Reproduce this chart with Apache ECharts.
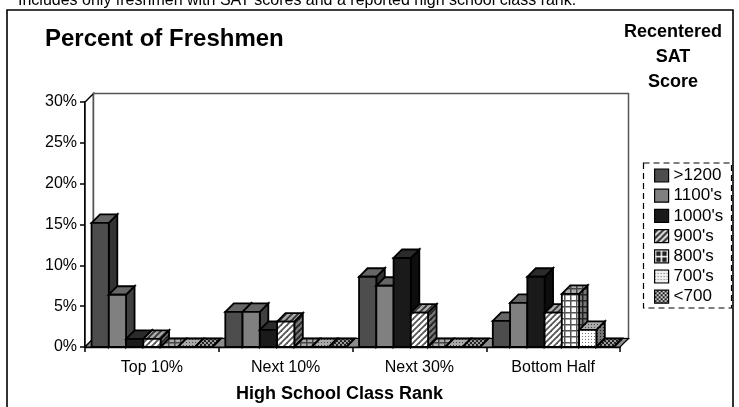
<!DOCTYPE html>
<html><head><meta charset="utf-8">
<style>html,body{margin:0;padding:0;background:#fff}#c{width:739px;height:407px}</style>
<script src="https://cdn.jsdelivr.net/npm/echarts@6/dist/echarts.min.js"></script>
</head><body><div id="c"></div>
<script>
const categories = ["Top 10%", "Next 10%", "Next 30%", "Bottom Half"];
const bands = [">1200", "1100's", "1000's", "900's", "800's", "700's", "<700"];
const over1200 = [15.2, 4.3, 8.6, 3.2];
const s1100 = [6.4, 4.3, 7.5, 5.4];
const s1000 = [1.0, 2.1, 10.9, 8.6];
const s900 = [1.0, 3.1, 4.2, 4.2];
const s800 = [0, 0, 0, 6.5];
const s700 = [0, 0, 0, 2.1];
const under700 = [0, 0, 0, 0];
const seriesValues = [over1200, s1100, s1000, s900, s800, s700, under700];
const yTicks = { min: 0, max: 30, interval: 5 };

function tile(size, draw) {
  const c = document.createElement('canvas');
  c.width = c.height = size;
  draw(c.getContext('2d'), size);
  return { image: c, repeat: 'repeat' };
}
function hatch(fg, bg) {
  return tile(6, (g, s) => {
    g.fillStyle = bg; g.fillRect(0, 0, s, s);
    g.strokeStyle = fg; g.lineWidth = 1.8;
    [[-s, s, s, -s], [0, s, s, 0], [0, 2 * s, 2 * s, 0]].forEach(l => {
      g.beginPath(); g.moveTo(l[0], l[1]); g.lineTo(l[2], l[3]); g.stroke();
    });
  });
}
function grid(fg, bg) {
  return tile(6, (g, s) => {
    g.fillStyle = bg; g.fillRect(0, 0, s, s);
    g.fillStyle = fg; g.fillRect(0, 0, s, 1.5); g.fillRect(0, 0, 1.5, s);
  });
}
function dots(fg, bg) {
  return tile(3, (g, s) => {
    g.fillStyle = bg; g.fillRect(0, 0, s, s);
    g.fillStyle = fg; g.fillRect(0, 0, 1, 1);
  });
}
function check(fg, bg) {
  return tile(4, (g, s) => {
    g.fillStyle = bg; g.fillRect(0, 0, s, s);
    g.fillStyle = fg; g.fillRect(0, 0, 2, 2); g.fillRect(2, 2, 2, 2);
  });
}
const fronts = ['#4d4d4d', '#808080', '#1a1a1a', hatch('#555', '#fff'), grid('#555', '#fff'), dots('#777', '#fff'), check('#333', '#ccc')];
const tops = ['#666666', '#666666', '#2b2b2b', hatch('#333', '#aaa'), grid('#444', '#aaa'), dots('#444', '#aaa'), check('#222', '#999')];
const sides = ['#333333', '#404040', '#0d0d0d', hatch('#222', '#777'), grid('#222', '#777'), dots('#222', '#777'), check('#111', '#666')];
const legendFronts = ['#4d4d4d', '#808080', '#1a1a1a', hatch('#fff', '#333'), grid('#fff', '#222'), dots('#777', '#eee'), check('#ccc', '#222')];
const depth = 8.5;

function poly(points, fill) {
  return { type: 'polygon', shape: { points }, style: { fill, stroke: '#000', lineWidth: 1.8 } };
}
function barItem(i) {
  return function (params, api) {
    const cat = api.value(0), val = api.value(1);
    const base = api.coord([cat, 0]), top = api.coord([cat, val]);
    const band = api.size([1, 0])[0];
    const w = band * 0.129;
    const x0 = base[0] - band / 2 + band * 0.049 + i * w, x1 = x0 + w;
    const yb = base[1], yt = top[1];
    return {
      type: 'group',
      children: [
        poly([[x1, yb], [x1 + depth, yb - depth], [x1 + depth, yt - depth], [x1, yt]], sides[i]),
        poly([[x0, yt], [x0 + depth, yt - depth], [x1 + depth, yt - depth], [x1, yt]], tops[i]),
        poly([[x0, yb], [x1, yb], [x1, yt], [x0, yt]], fronts[i])
      ]
    };
  };
}
const wallSeries = {
  type: 'custom', silent: true, clip: false, z: 1, data: [[0, 0]],
  encode: { x: 0, y: 1 },
  renderItem: function (params) {
    const r = params.coordSys, d = depth;
    const L = r.x, R = r.x + r.width, T = r.y, B = r.y + r.height;
    return {
      type: 'group',
      children: [
        { type: 'polygon', shape: { points: [[L, B], [L, T], [L + d, T - d], [L + d, B - d]] },
          style: { fill: '#fff', stroke: '#000', lineWidth: 1.5 } },
        { type: 'polygon', shape: { points: [[L + d, T - d], [R + d, T - d], [R + d, B - d], [L + d, B - d]] },
          style: { fill: '#fff', stroke: '#555', lineWidth: 1.5 } },
        { type: 'polygon', shape: { points: [[L, B], [L + d, B - d], [R + d, B - d], [R, B]] },
          style: { fill: '#8c8c8c', stroke: '#000', lineWidth: 1.2 } }
      ]
    };
  }
};
const barSeries = bands.map((name, i) => ({
  type: 'custom', name, clip: false, z: 2 + i,
  encode: { x: 0, y: 1 },
  itemStyle: { color: legendFronts[i] },
  renderItem: barItem(i),
  data: seriesValues[i].map((v, c) => [c, v])
}));
const font = '"Liberation Sans", Arial, sans-serif';
function label(text, x, y, size, weight, align) {
  return { type: 'text', x, y, style: { text, font: weight + ' ' + size + 'px ' + font, fill: '#000', align, verticalAlign: 'middle' } };
}
const chart = echarts.init(document.getElementById('c'), null, { renderer: 'canvas' });
chart.setOption({
  animation: false,
  backgroundColor: '#fff',
  textStyle: { fontFamily: font, color: '#000' },
  grid: { left: 85, right: 119, top: 102, bottom: 60, outerBoundsMode: 'none' },
  xAxis: {
    type: 'category', data: categories,
    name: 'High School Class Rank', nameLocation: 'middle', nameGap: 38,
    nameTextStyle: { fontFamily: font, fontSize: 18, fontWeight: 'bold', color: '#000', padding: [0, 26, 0, 0] },
    axisLine: { onZero: false, lineStyle: { color: '#000', width: 2.4 } },
    axisTick: { show: true, length: 5, lineStyle: { color: '#000', width: 1.5 } },
    axisLabel: { fontFamily: font, fontSize: 16, color: '#000', margin: 13 }
  },
  yAxis: {
    type: 'value', min: yTicks.min, max: yTicks.max, interval: yTicks.interval,
    axisLine: { show: true, lineStyle: { color: '#000', width: 1.8 } },
    axisTick: { show: true, length: 5, lineStyle: { color: '#000', width: 1.5 } },
    axisLabel: { fontFamily: font, fontSize: 16, color: '#000', margin: 8, padding: [3, 0, 0, 0], formatter: '{value}%' },
    splitLine: { show: false }
  },
  legend: {
    orient: 'vertical', left: 654, top: 167, padding: 0,
    data: bands, icon: 'rect', itemWidth: 14, itemHeight: 13, itemGap: 3.2,
    selectedMode: false,
    itemStyle: { borderColor: '#000', borderWidth: 1.2 },
    textStyle: { fontFamily: font, fontSize: 17, color: '#000', padding: 0, lineHeight: 17 }
  },
  graphic: [
    { type: 'rect', z: -1, shape: { x: 7, y: 10, width: 726, height: 420 }, style: { fill: '#fff', stroke: '#000', lineWidth: 1.6 } },
    { type: 'rect', z: 0, shape: { x: 643.5, y: 163, width: 88, height: 145 }, style: { fill: 'none', stroke: '#000', lineWidth: 1.2, lineDash: [6, 4] } },
    label('Includes only freshmen with SAT scores and a reported high school class rank.', 18, 1, 16, 'normal', 'left'),
    label('Percent of Freshmen', 45, 39, 24, 'bold', 'left'),
    label('Recentered', 673, 32, 18, 'bold', 'center'),
    label('SAT', 673, 57, 18, 'bold', 'center'),
    label('Score', 673, 82, 18, 'bold', 'center')
  ],
  series: [wallSeries].concat(barSeries)
});
</script></body></html>
